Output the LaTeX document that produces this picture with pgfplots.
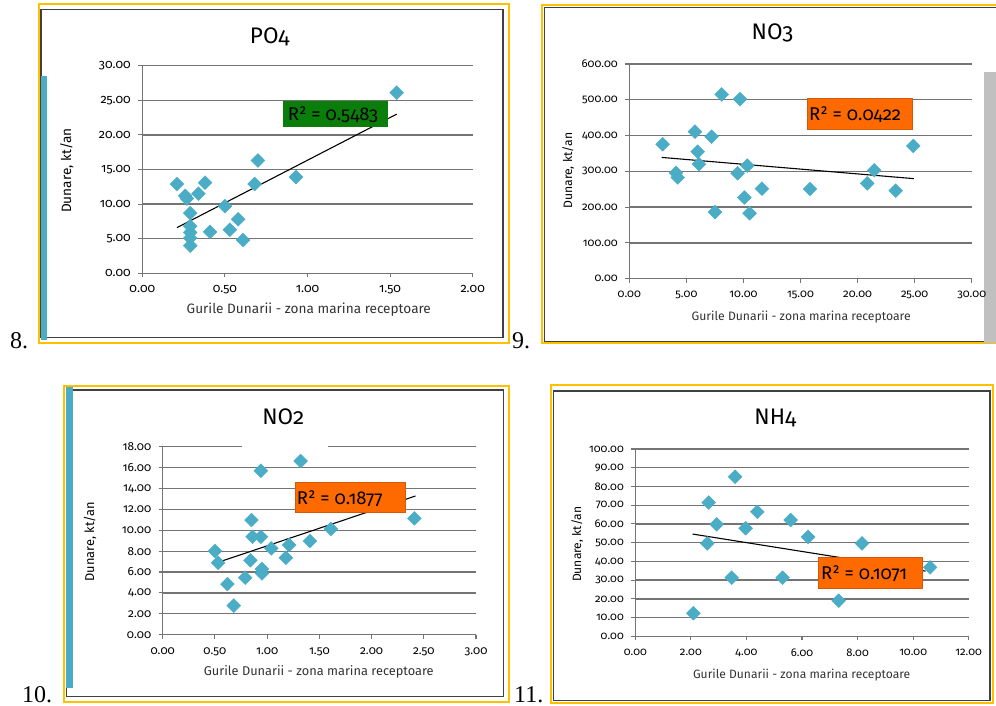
\documentclass[border=0pt]{standalone}
\usepackage{pgfplots}
\pgfplotsset{compat=1.18}
\usepackage{fontspec}
\setmainfont{Fira Sans}[Numbers=OldStyle]
\newfontfamily\numfont{Liberation Serif}

\definecolor{gold}{HTML}{FFC000}
\definecolor{framegray}{HTML}{404040}
\definecolor{gridgray}{HTML}{747474}
\definecolor{aqua}{HTML}{4BACC6}
\definecolor{boxgreen}{HTML}{0A7D0A}
\definecolor{boxorange}{HTML}{FF6A00}
\definecolor{boxedge}{HTML}{D25A0A}
\definecolor{sidegray}{HTML}{C0C0C0}

\newcommand{\fs}[1]{\fontsize{#1bp}{1.2\dimexpr#1bp\relax}\selectfont}

\pgfplotsset{
  panel/.style={
    scale only axis, anchor=south west,
    axis lines=left, axis line style={-, draw=gridgray, line width=1.3bp},
    ymajorgrids, major grid style={draw=gridgray, line width=1.3bp},
    tick align=outside, major tick length=4bp,
    tick style={draw=gridgray, line width=1.1bp},
    xmin=0, ymin=0, clip=false,
    xticklabel style={yshift=-5bp},
    yticklabel style={xshift=-4bp},
    /pgf/number format/.cd, fixed, fixed zerofill, precision=2,
    assume math mode=true, /pgfplots/.cd,
  },
  pts/.style={only marks, mark=square*, mark size=4.9bp,
    mark options={rotate=45, fill=aqua, draw=aqua}},
  trend/.style={no marks, draw=black, line width=1.1bp},
}

\begin{document}
\begin{tikzpicture}[x=1bp, y=-1bp]
\path[use as bounding box] (0,0) rectangle (996,706);

% ---------- panel frames ----------
\draw[gold, line width=2bp] (39.3,4) rectangle (509,343);
\draw[framegray, line width=1.4bp] (41,9.3) rectangle (503,337.5);
\fill[aqua] (41,76) rectangle (47.3,340);

\draw[gold, line width=2bp] (542.3,4.7) rectangle (1000,343.3);
\draw[framegray, line width=1.4bp] (544.7,7.3) rectangle (1000,341.7);
\fill[sidegray] (984,72) rectangle (996,343);

\draw[gold, line width=2bp] (64.3,385.7) rectangle (509.3,702);
\draw[framegray, line width=1.4bp] (66.7,390) rectangle (503.3,696.7);
\fill[aqua] (66,386.7) rectangle (73.3,688.3);

\draw[gold, line width=2bp] (550.7,385) rectangle (992.7,703.3);
\draw[framegray, line width=1.4bp] (553.3,391) rectangle (990,700.7);

% ---------- PO4 ----------
\begin{axis}[panel, at={(142.3bp,-273.3bp)}, width=330.4bp, height=207.6bp,
  xmax=2, ymax=30, xtick distance=0.5, ytick distance=5,
  tick label style={font=\fs{12.5}}]
\addplot[pts] coordinates {
  (0.21,12.9) (0.26,11.2) (0.27,10.8) (0.34,11.5) (0.38,13.1)
  (0.29,8.7) (0.29,6.8) (0.29,5.9) (0.29,5.1) (0.29,4.0)
  (0.41,6.0) (0.50,9.7) (0.53,6.3) (0.58,7.8) (0.61,4.8)
  (0.68,12.9) (0.70,16.3) (0.93,13.9) (1.54,26.1)};
\addplot[trend] coordinates {(0.21,6.6) (1.54,23.0)};
\end{axis}

% ---------- NO3 ----------
\begin{axis}[panel, at={(629.3bp,-278.7bp)}, width=342.4bp, height=214.7bp,
  xmax=30, ymax=600, xtick distance=5, ytick distance=100,
  tick label style={font=\fs{11.3}}]
\addplot[pts] coordinates {
  (2.92,375.6) (4.09,296) (4.24,283) (5.75,411) (5.99,355)
  (6.10,320) (7.21,397) (7.51,186) (8.09,515) (9.49,294.5)
  (9.70,502) (10.08,227) (10.34,316) (10.54,183) (11.62,251.6)
  (15.83,250.7) (20.85,266.5) (21.46,303) (23.34,246) (24.88,371)};
\addplot[trend] coordinates {(2.83,339) (24.94,279.6)};
\end{axis}

% ---------- NO2 ----------
\begin{axis}[panel, at={(162.7bp,-634.7bp)}, width=313.3bp, height=188bp,
  xmax=3, ymax=18, xtick distance=0.5, ytick distance=2,
  tick label style={font=\fs{11.8}}]
\addplot[pts] coordinates {
  (0.50,8.01) (0.53,6.89) (0.62,4.85) (0.68,2.78) (0.79,5.46)
  (0.84,7.12) (0.85,10.98) (0.86,9.38) (0.94,9.38) (0.94,15.7)
  (0.95,6.29) (0.95,5.87) (1.04,8.27) (1.18,7.37) (1.21,8.59)
  (1.32,16.63) (1.41,8.97) (1.61,10.12) (2.41,11.14)};
\addplot[trend] coordinates {(0.50,6.83) (2.42,13.28)};
\end{axis}
\fill[white] (242,442.5) rectangle (328,450.5);

% ---------- NH4 ----------
\begin{axis}[panel, at={(635.3bp,-636.3bp)}, width=333.4bp, height=187.3bp,
  xmax=12, ymax=100, xtick distance=2, ytick distance=10,
  tick label style={font=\fs{11.2}}]
\addplot[pts] coordinates {
  (2.09,12.3) (2.59,49.6) (2.64,71.4) (2.93,59.8) (3.47,31.3)
  (3.59,85.2) (3.97,57.7) (4.39,66.5) (5.30,31.3) (5.59,62.1)
  (6.22,53.0) (7.32,19.0) (8.16,49.6) (10.61,36.8)};
\addplot[trend] coordinates {(2.06,54.6) (10.45,34.8)};
\end{axis}

% ---------- titles and axis labels ----------
\node[font=\fs{22.5}] at (269.7,37) {PO4};
\node[font=\fs{22.5}] at (772.5,33.3) {NO3};
\node[font=\fs{22.5}] at (283.3,416.7) {NO2};
\node[font=\fs{22.5}] at (775.3,417.7) {NH4};

\node[font=\fs{13.6}, text=black!80] at (308.8,310) {Gurile Dunarii - zona marina receptoare};
\node[font=\fs{12.2}, text=black!80] at (801.2,316.7) {Gurile Dunarii - zona marina receptoare};
\node[font=\fs{12.8}, text=black!80] at (318.8,672.3) {Gurile Dunarii - zona marina receptoare};
\node[font=\fs{12.1}, text=black!80] at (801.7,675) {Gurile Dunarii - zona marina receptoare};

\node[font=\fs{13.6}, rotate=90] at (66.7,170.5) {Dunare, kt/an};
\node[font=\fs{12.2}, rotate=90] at (568.3,170.7) {Dunare, kt/an};
\node[font=\fs{12.8}, rotate=90] at (90,541.7) {Dunare, kt/an};
\node[font=\fs{12.1}, rotate=90] at (577.3,544.2) {Dunare, kt/an};

% ---------- R^2 boxes ----------
\fill[boxgreen] (283.3,100.7) rectangle (388.3,127.3);
\node[font=\fs{18.5}, anchor=base west, inner sep=0] at (287.7,120.7) {R² = 0.5483};
\draw[boxedge, fill=boxorange] (807.3,98.7) rectangle (912.3,128.7);
\node[font=\fs{18.5}, anchor=base west, inner sep=0] at (809,120.7) {R² = 0.0422};
\draw[boxedge, fill=boxorange] (294.7,481.7) rectangle (405,511.7);
\node[font=\fs{18.5}, anchor=base west, inner sep=0] at (296.7,504) {R² = 0.1877};
\draw[boxedge, fill=boxorange] (818.3,556.7) rectangle (922.3,588.3);
\node[font=\fs{18.5}, anchor=base west, inner sep=0] at (821,579.3) {R² = 0.1071};

% ---------- figure numbers ----------
\node[font=\numfont\fs{24}, anchor=base west, inner sep=0] at (10,348) {8.};
\node[font=\numfont\fs{24}, anchor=base west, inner sep=0] at (512,348) {9.};
\node[font=\numfont\fs{24}, anchor=base west, inner sep=0] at (22,702) {10.};
\node[font=\numfont\fs{24}, anchor=base west, inner sep=0] at (514,702) {11.};
\end{tikzpicture}
\end{document}
